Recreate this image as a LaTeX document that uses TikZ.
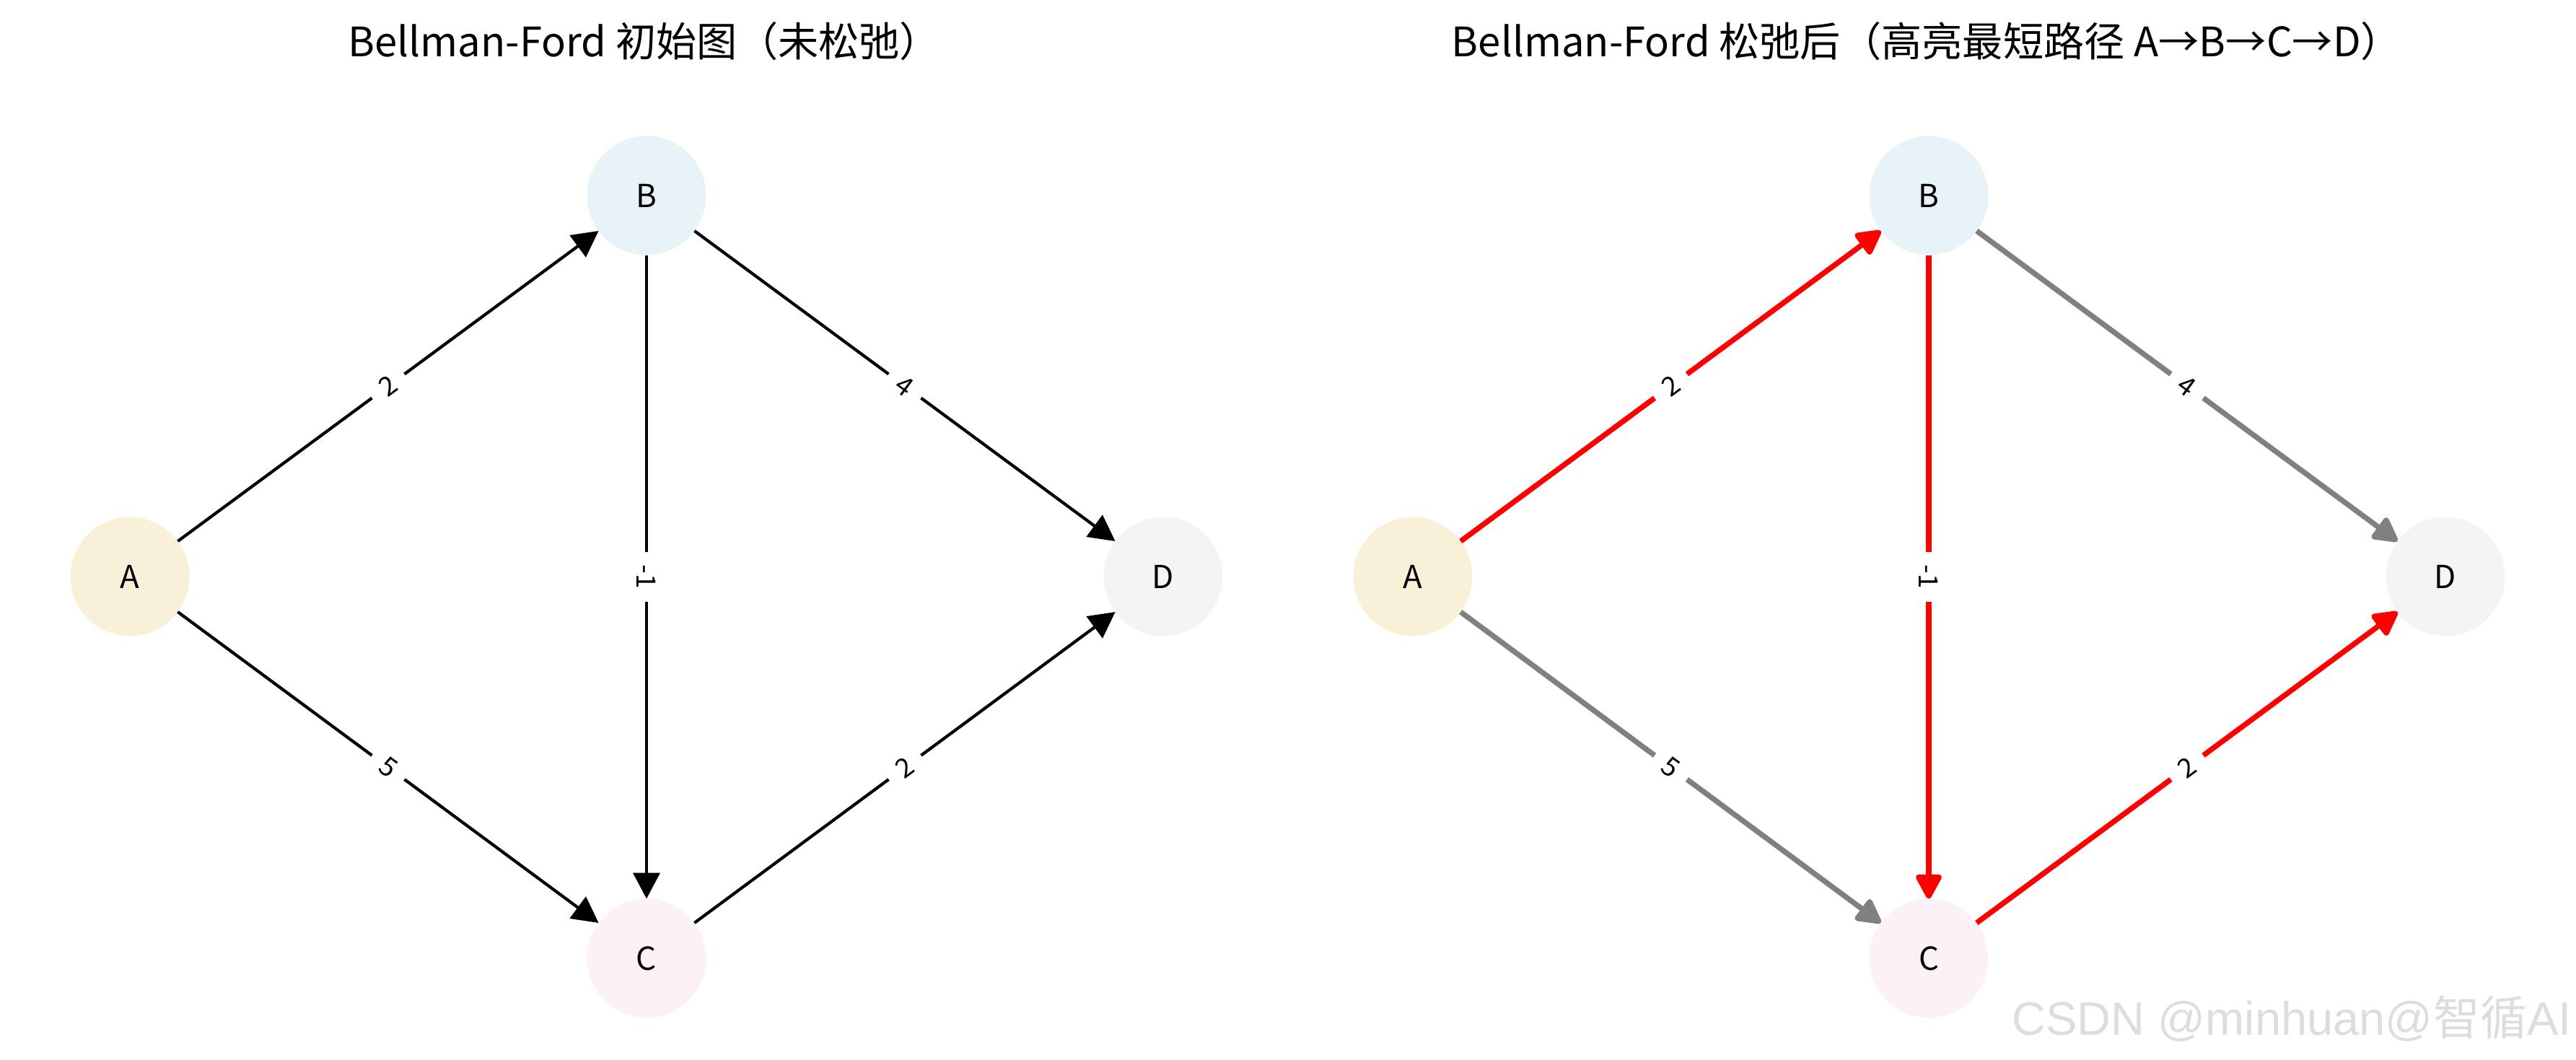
\documentclass[tikz,border=0pt]{standalone}
\usepackage{fontspec}
\setmainfont{Noto Sans CJK SC}
\newfontfamily\cjkfont{Noto Sans CJK SC}
\newfontfamily\wmfont{Liberation Sans}
\usetikzlibrary{arrows.meta}

\definecolor{colA}{RGB}{248,241,216}
\definecolor{colB}{RGB}{231,243,247}
\definecolor{colC}{RGB}{252,241,247}
\definecolor{colD}{RGB}{244,244,244}
\definecolor{wmgray}{RGB}{221,221,221}

\begin{document}
\begin{tikzpicture}[
    vertex/.style={circle, minimum size=1.65cm, inner sep=0pt, outer sep=0pt,
        font=\fontsize{12.5}{15}\selectfont},
    wlabel/.style={fill=white, inner xsep=5pt, inner ysep=1pt,
        font=\fontsize{10.5}{12}\selectfont},
    plain/.style={-{Triangle[length=3.6mm, width=3.7mm]}, line width=1.2pt},
    best/.style={-{Triangle[length=3.8mm, width=3.9mm, round]}, line width=2.1pt,
        line join=round, red},
    other/.style={best, gray}
]
    \useasboundingbox (0, 0) rectangle (35.70, -14.69);

    % Заголовки
    \node (t1) at (8.93, -0.57) {\fontsize{16}{19}\selectfont Bellman-Ford 初始图（未松弛）};
    \node (t2) at (26.70, -0.57) {\fontsize{16}{19}\selectfont Bellman-Ford 松弛后（高亮最短路径 A→B→C→D）};

    % Левый граф: вершины
    \node[vertex, fill=colA] (A1) at (1.80, -7.99) {A};
    \node[vertex, fill=colB] (B1) at (8.96, -2.71) {B};
    \node[vertex, fill=colC] (C1) at (8.96, -13.28) {C};
    \node[vertex, fill=colD] (D1) at (16.12, -7.99) {D};

    % Левый граф: рёбра с весами
    \draw[plain] (A1) -- (B1) node[wlabel, midway, sloped] {2};
    \draw[plain] (A1) -- (C1) node[wlabel, midway, sloped] {5};
    \draw[plain] (B1) -- (C1) node[wlabel, midway, rotate=-90] {-1};
    \draw[plain] (B1) -- (D1) node[wlabel, midway, sloped] {4};
    \draw[plain] (C1) -- (D1) node[wlabel, midway, sloped] {2};

    % Правый граф: вершины
    \node[vertex, fill=colA] (A2) at (19.58, -7.99) {A};
    \node[vertex, fill=colB] (B2) at (26.73, -2.71) {B};
    \node[vertex, fill=colC] (C2) at (26.73, -13.28) {C};
    \node[vertex, fill=colD] (D2) at (33.89, -7.99) {D};

    % Правый граф: кратчайший путь красным, остальное серым
    \draw[other] (A2) -- (C2) node[wlabel, midway, sloped, text=black] {5};
    \draw[other] (B2) -- (D2) node[wlabel, midway, sloped, text=black] {4};
    \draw[best] (A2) -- (B2) node[wlabel, midway, sloped, text=black] {2};
    \draw[best] (B2) -- (C2) node[wlabel, midway, rotate=-90, text=black] {-1};
    \draw[best] (C2) -- (D2) node[wlabel, midway, sloped, text=black] {2};

    % Водяной знак
    \node[text=wmgray] (wm) at (31.76, -14.12)
        {\fontsize{18.5}{22}\selectfont\wmfont CSDN @minhuan@{\cjkfont 智循}AI};
\end{tikzpicture}
\end{document}
